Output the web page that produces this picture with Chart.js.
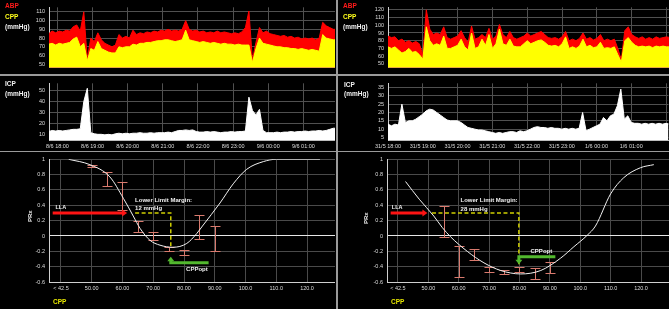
<!DOCTYPE html>
<html><head><meta charset="utf-8">
<script src="https://cdn.jsdelivr.net/npm/chart.js@4.4.1/dist/chart.umd.min.js"></script>
<style>
html,body{margin:0;padding:0;background:#000;}
body{width:669px;height:309px;overflow:hidden;position:relative;font-family:"Liberation Sans",Arial,sans-serif;}
canvas{position:absolute;display:block;}
.lbl{position:absolute;font-size:6.5px;font-weight:bold;color:#f2f2f2;line-height:1;white-space:nowrap;}
.sep{position:absolute;background:#9a9a9a;}
</style></head><body>
<canvas id="abpL" width="335" height="75" style="left:0;top:0"></canvas>
<canvas id="icpL" width="335" height="75" style="left:0;top:76px"></canvas>
<canvas id="abpR" width="331" height="75" style="left:338px;top:0"></canvas>
<canvas id="icpR" width="331" height="75" style="left:338px;top:76px"></canvas>
<canvas id="prxL" width="335" height="157" style="left:0;top:152px"></canvas>
<canvas id="prxR" width="331" height="157" style="left:338px;top:152px"></canvas>

<div class="sep" style="left:0;top:74px;width:669px;height:1.5px"></div>
<div class="sep" style="left:0;top:150.5px;width:669px;height:1.5px"></div>
<div class="sep" style="left:336px;top:0;width:1.5px;height:309px"></div>

<div class="lbl" style="left:5px;top:3px;color:#ff1a1a">ABP</div>
<div class="lbl" style="left:5px;top:14px;color:#ffff1a">CPP</div>
<div class="lbl" style="left:5px;top:24px">(mmHg)</div>
<div class="lbl" style="left:5px;top:81px">ICP</div>
<div class="lbl" style="left:5px;top:91px">(mmHg)</div>
<div class="lbl" style="left:343px;top:3px;color:#ff1a1a">ABP</div>
<div class="lbl" style="left:343px;top:14px;color:#ffff1a">CPP</div>
<div class="lbl" style="left:343px;top:24px">(mmHg)</div>
<div class="lbl" style="left:344px;top:82px">ICP</div>
<div class="lbl" style="left:344px;top:91px">(mmHg)</div>
<div class="lbl" style="left:27px;top:222px;font-size:6px;transform:rotate(-90deg);transform-origin:left top">PRx</div>
<div class="lbl" style="left:363px;top:224px;font-size:6px;transform:rotate(-90deg);transform-origin:left top">PRx</div>
<div class="lbl" style="left:53px;top:299px;color:#e6e600">CPP</div>
<div class="lbl" style="left:391px;top:299px;color:#e6e600">CPP</div>

<script>
// ---------- DATA ----------
const TIME_LABELS_L = ["8/6 18:00","8/6 19:00","8/6 20:00","8/6 21:00","8/6 22:00","8/6 23:00","9/6 00:00","9/6 01:00"];
const TIME_LABELS_R = ["31/5 18:00","31/5 19:00","31/5 20:00","31/5 21:00","31/5 22:00","31/5 23:00","1/6 00:00","1/6 01:00"];
const T0_L = -0.25, T0_R = 0, DT = 0.1; // hours relative to 18:00, sample spacing

const ABP_L = [85,88,86,88,87,89,88,93,95,88, 110,56,80,76,86,78,74,72,70,72,
  84,80,82,80,89,84,86,85,87,86, 88,87,89,88,90,88,89,88,90,100,
  90,88,89,87,88,86,87,86,88,86, 87,86,85,86,85,87,92,111,55,75,
  92,86,88,85,84,83,82,83,81,82, 80,81,79,80,79,80,78,80,98,94, 92,90,90];
const CPP_L = [73,74,72,74,73,74,75,79,81,70, 74,54,68,66,76,68,66,64,63,63,
  70,69,70,70,73,72,74,74,75,75, 76,77,77,78,78,77,76,77,78,89,
  78,77,76,75,76,75,74,75,74,73, 74,73,73,72,73,72,72,72,52,68,
  80,74,73,72,71,70,70,69,69,68, 68,67,68,67,66,67,66,65,84,80, 79,78,78];
const ICP_L = [13,14,13.5,14,13.5,14,14.5,15,15,15.5, 40,52,12,11,10.5,10.5,10,10.5,10,11,
  11.5,11,11.5,11,11.5,11.5,12,11.5,11.5,12, 11.5,12,12,12,12.5,12,13,14,14,14.5,
  14,14.5,13,12.5,12.5,13,12.5,13,12.5,12, 12.5,12.5,13,12.5,13,13,13.5,44,32,28,
  33,14,12,12,12,12.5,12,12.5,12.5,13, 12.5,13,13,13.5,13,13.5,13.5,14,13.5,14, 15,16,16];

const ABP_R = [86,84,85,80,82,78,80,77,79,76, 62,120,95,88,90,88,98,84,82,84,
  86,93,84,78,99,82,84,88,84,96, 82,86,101,88,84,92,84,82,84,86,
  90,86,88,90,92,88,84,83,84,82, 85,92,80,82,80,83,90,82,84,81,
  83,88,80,82,80,82,70,55,93,98, 88,85,83,85,82,84,82,85,83,84, 85,84];
const CPP_R = [72,70,72,68,64,66,70,65,66,62, 56,98,80,74,76,74,86,70,70,72,
  74,82,72,68,90,70,72,82,74,88, 70,76,95,76,74,82,73,72,72,76,
  80,76,78,80,81,78,74,73,74,72, 76,85,70,72,70,73,82,72,74,71,
  72,78,70,71,70,72,62,52,80,84, 78,74,72,73,72,73,71,73,72,73, 72,72];
const ICP_R = [13,12,13,12.5,25,14,15,15,16,17.5, 19,21,22,21.5,20,18.5,17,15.5,15,15,
  15,14,12.5,11,10.5,10,9.5,9.5,9,8.5, 8,7.5,8,7.5,8,8.5,8.5,8,9,8.5,
  9,10,11,11.5,11,11,10.5,11,10.5,10.5, 10,10.5,10,10.5,10,10.5,20,9,10,11,
  12,13,17,15,18,19,24,34,16,18, 14,13.5,13.5,13,13.5,13,13.5,13,13.5,13, 13.5,13];

const PRX_TICKS = ["< 42.5","50.00","60.00","70.00","80.00","90.00","100.0","110.0","120.0"];

const CURVE_L_X = [42.5,49.4,55.9,60.3,63.5,65.7,68.9,72.2,76.4,80.9,84.1,86,91.7,96,100.4,105.8,110,124.2];
const CURVE_L_Y = [1.0,0.93,0.77,0.49,0.26,0.1,-0.055,-0.12,-0.147,-0.097,0.03,0.13,0.43,0.68,0.87,0.97,1.0,1.0];
const ERR_L_X  = [50,55,60,65,70,75,80,85,90];
const ERR_L_HI = [0.93,0.83,0.71,0.20,0.05,-0.15,-0.18,0.27,0.125];
const ERR_L_LO = [0.90,0.65,0.34,0.05,-0.05,-0.19,-0.245,-0.04,-0.19];

const CURVE_R_X = [42.5,47,51.8,54.6,57.3,62.8,68.3,73.8,80.4,87,93.5,97.9,102.3,105,110,114.3,119.8,124.2];
const CURVE_R_Y = [0.71,0.48,0.26,0.11,-0.01,-0.2,-0.35,-0.45,-0.495,-0.45,-0.29,-0.14,0.01,0.13,0.55,0.76,0.89,0.93];
const ERR_R_X  = [55,60,65,70,75,80,85,90];
const ERR_R_HI = [0.39,-0.13,-0.17,-0.41,-0.445,-0.41,-0.42,-0.34];
const ERR_R_LO = [-0.01,-0.53,-0.31,-0.47,-0.49,-0.47,-0.56,-0.48];

const LLA_L = 61.5, CPPOPT_L = 75.7, MARGIN_L = "12 mmHg";
const LLA_R = 49.7, CPPOPT_R = 79.8, MARGIN_R = "28 mmHg";
const LLA_PRX = 0.3;

// ---------- RENDER ----------
Chart.defaults.font.family = '"Liberation Sans", Arial, sans-serif';
Chart.defaults.color = '#e0e0e0';
const TICK_FONT = {size: 5.5};

function timeChart(id, series, t0, xmin, xmax, ymin, ymax, ystep, labels, yW, xH, padTop, showX) {
  const datasets = series.map(s => ({
    data: s.vals.map((v, i) => ({x: t0 + i * DT, y: v})),
    borderColor: s.color, backgroundColor: s.color, borderWidth: 1,
    pointRadius: 0, fill: 'start', tension: 0
  }));
  return new Chart(document.getElementById(id), {
    type: 'line',
    data: {datasets},
    options: {
      responsive: false, animation: false, devicePixelRatio: 1,
      layout: {padding: {top: padTop, left: 0, right: 0, bottom: 0}},
      plugins: {legend: {display: false}, tooltip: {enabled: false}},
      scales: {
        x: {type: 'linear', min: xmin, max: xmax,
          afterFit: s => { s.height = xH; },
          grid: {color: '#505050', drawTicks: false},
          border: {color: '#bdbdbd'},
          ticks: {display: showX, stepSize: 1, includeBounds: false, padding: 3, autoSkip: false,
            maxRotation: 0, font: TICK_FONT, color: '#dddddd',
            callback: v => labels[Math.round(v)] ?? ''}},
        y: {type: 'linear', min: ymin, max: ymax,
          afterFit: s => { s.width = yW; },
          grid: {color: '#505050', drawTicks: false},
          border: {color: '#d0d0d0'},
          ticks: {stepSize: ystep, includeBounds: false, autoSkip: false, padding: 4, font: TICK_FONT, color: '#dddddd'}}
      }
    }
  });
}

function annoPlugin(err, a) {
  return {
    id: 'prxAnno',
    beforeDatasetsDraw(chart) {
      const {ctx, scales: {x, y}} = chart;
      ctx.save();
      ctx.strokeStyle = '#d97a6e'; ctx.lineWidth = 1;
      err.x.forEach((v, i) => {
        const px = Math.round(x.getPixelForValue(v)) + 0.5;
        const ph = Math.round(y.getPixelForValue(err.hi[i])) + 0.5;
        const pl = Math.round(y.getPixelForValue(err.lo[i])) + 0.5;
        ctx.beginPath();
        ctx.moveTo(px, ph); ctx.lineTo(px, pl);
        ctx.moveTo(px - 5, ph); ctx.lineTo(px + 5, ph);
        ctx.moveTo(px - 5, pl); ctx.lineTo(px + 5, pl);
        ctx.stroke();
      });
      ctx.restore();
    },
    afterDatasetsDraw(chart) {
      const {ctx, scales: {x, y}} = chart;
      const X = v => x.getPixelForValue(v), Y = v => y.getPixelForValue(v);
      ctx.save();
      // yellow dashed margin
      ctx.strokeStyle = '#cfcf00'; ctx.lineWidth = 1.5; ctx.setLineDash([4, 2.5]);
      ctx.beginPath();
      ctx.moveTo(X(a.dashFrom), Y(a.llaY));
      ctx.lineTo(X(a.opt), Y(a.llaY));
      ctx.lineTo(X(a.opt), Y(a.dashBottom));
      ctx.stroke();
      ctx.setLineDash([]);
      // red LLA arrow
      const ry = Y(a.llaY), rx1 = X(a.llaFrom), rx2 = X(a.lla);
      ctx.strokeStyle = '#ff1414'; ctx.fillStyle = '#ff1414'; ctx.lineWidth = 3;
      ctx.beginPath(); ctx.moveTo(rx1, ry); ctx.lineTo(rx2 - 4, ry); ctx.stroke();
      ctx.beginPath(); ctx.moveTo(rx2, ry); ctx.lineTo(rx2 - 5, ry - 3.5); ctx.lineTo(rx2 - 5, ry + 3.5); ctx.closePath(); ctx.fill();
      // green CPPopt arrow
      const gy = Y(a.greenY), gx1 = X(a.greenFrom), gx2 = X(a.opt), gt = Y(a.greenTip);
      const dir = Math.sign(gt - gy);
      ctx.strokeStyle = '#52b82e'; ctx.fillStyle = '#52b82e'; ctx.lineWidth = 3;
      ctx.beginPath(); ctx.moveTo(gx1, gy); ctx.lineTo(gx2, gy); ctx.lineTo(gx2, gt - dir * 3); ctx.stroke();
      ctx.beginPath(); ctx.moveTo(gx2, gt); ctx.lineTo(gx2 - 3.5, gt - dir * 4.5); ctx.lineTo(gx2 + 3.5, gt - dir * 4.5); ctx.closePath(); ctx.fill();
      // texts
      ctx.fillStyle = '#f0f0f0'; ctx.textBaseline = 'middle';
      ctx.font = 'bold 5.5px "Liberation Sans", Arial, sans-serif'; ctx.textAlign = 'left';
      ctx.fillText('LLA', X(a.llaLabelX), Y(a.llaLabelY));
      ctx.font = 'bold 6px "Liberation Sans", Arial, sans-serif';
      ctx.fillText('Lower Limit Margin:', X(a.textX), Y(a.textY1));
      ctx.fillText(a.margin, X(a.textX), Y(a.textY2));
      ctx.textAlign = 'center';
      ctx.fillText('CPPopt', X(a.optLabelX), Y(a.optLabelY));
      ctx.restore();
    }
  };
}

function prxChart(id, cx, cy, err, anno, xmin, xmax, yW) {
  return new Chart(document.getElementById(id), {
    type: 'line',
    data: {datasets: [{
      data: cx.map((v, i) => ({x: v, y: cy[i]})),
      borderColor: '#f2f2f2', borderWidth: 1, pointRadius: 0,
      cubicInterpolationMode: 'monotone', fill: false
    }]},
    options: {
      responsive: false, animation: false, devicePixelRatio: 1,
      layout: {padding: {top: 3, left: 0, right: 0, bottom: 0}},
      plugins: {legend: {display: false}, tooltip: {enabled: false}},
      scales: {
        x: {type: 'linear', min: xmin, max: xmax,
          afterFit: s => { s.height = 27; },
          grid: {color: '#4a4a4a', drawTicks: false},
          border: {color: '#cfcfcf'},
          ticks: {stepSize: 10, includeBounds: false, padding: 3, autoSkip: false, maxRotation: 0,
            font: TICK_FONT, color: '#dddddd',
            callback: v => PRX_TICKS[Math.round((v - 40) / 10)] ?? ''}},
        y: {type: 'linear', min: -0.6, max: 1,
          afterFit: s => { s.width = yW; },
          grid: {color: c => Math.abs(c.tick.value) < 1e-6 ? '#e6e6e6' : '#4a4a4a', drawTicks: false},
          border: {color: '#d0d0d0'},
          ticks: {stepSize: 0.2, includeBounds: false, autoSkip: false, padding: 4, font: TICK_FONT, color: '#dddddd',
            callback: v => String(+v.toFixed(1))}}
      }
    },
    plugins: [annoPlugin(err, anno)]
  });
}

timeChart('abpL', [{vals: CPP_L, color: '#ffff00'}, {vals: ABP_L, color: '#ff0000'}],
  T0_L, -0.24, 7.9, 46.1, 115.2, 10, TIME_LABELS_L, 49, 2, 2, false);
timeChart('icpL', [{vals: ICP_L, color: '#ffffff'}],
  T0_L, -0.24, 7.9, 5.4, 56.5, 10, TIME_LABELS_L, 49, 11, 1, true);
timeChart('abpR', [{vals: CPP_R, color: '#ffff00'}, {vals: ABP_R, color: '#ff0000'}],
  T0_R, 0, 8.07, 45, 123.3, 10, TIME_LABELS_R, 50, 2, 2, false);
timeChart('icpR', [{vals: ICP_R, color: '#ffffff'}],
  T0_R, 0, 8.07, 3.5, 37.5, 5, TIME_LABELS_R, 50, 11, 1, true);

prxChart('prxL', CURVE_L_X, CURVE_L_Y, {x: ERR_L_X, hi: ERR_L_HI, lo: ERR_L_LO},
  {lla: LLA_L, llaFrom: 37.3, llaY: LLA_PRX, dashFrom: 64.1, opt: CPPOPT_L, dashBottom: -0.13,
   greenY: -0.35, greenFrom: 88, greenTip: -0.27, margin: MARGIN_L,
   llaLabelX: 38.2, llaLabelY: 0.37, textX: 64.1, textY1: 0.47, textY2: 0.355,
   optLabelX: 84.2, optLabelY: -0.43},
  36.1, 129.1, 49);
prxChart('prxR', CURVE_R_X, CURVE_R_Y, {x: ERR_R_X, hi: ERR_R_HI, lo: ERR_R_LO},
  {lla: LLA_R, llaFrom: 37.6, llaY: LLA_PRX, dashFrom: 51.2, opt: CPPOPT_R, dashBottom: -0.37,
   greenY: -0.27, greenFrom: 91.8, greenTip: -0.37, margin: MARGIN_R,
   llaLabelX: 38, llaLabelY: 0.37, textX: 60.6, textY1: 0.46, textY2: 0.345,
   optLabelX: 87.2, optLabelY: -0.2},
  36.4, 129.2, 49);
</script>
</body></html>
